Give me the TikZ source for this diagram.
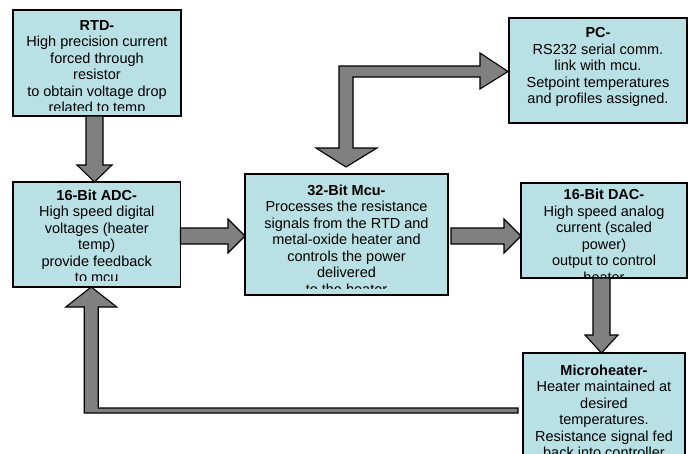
\documentclass[tikz,border=0pt]{standalone}
\usepackage{fontspec}
\setmainfont{Liberation Sans}
\usetikzlibrary{calc}
\definecolor{boxfill}{HTML}{B9E0E4}
\definecolor{arrowfill}{HTML}{808080}
% right-pointing block arrow: #1 start (centre line), #2 tip, #3 shaft half, #4 head half, #5 head length
\newcommand\rblockarrow[5]{\draw[blk] let \p1=#1, \p2=#2 in
  (\x1,\y1+#3) -- (\x2-#5,\y1+#3) -- (\x2-#5,\y1+#4) -- (\x2,\y1) --
  (\x2-#5,\y1-#4) -- (\x2-#5,\y1-#3) -- (\x1,\y1-#3) -- cycle;}
% down-pointing block arrow
\newcommand\dblockarrow[5]{\draw[blk] let \p1=#1, \p2=#2 in
  (\x1-#3,\y1) -- (\x1-#3,\y2+#5) -- (\x1-#4,\y2+#5) -- (\x1,\y2) --
  (\x1+#4,\y2+#5) -- (\x1+#3,\y2+#5) -- (\x1+#3,\y1) -- cycle;}
\begin{document}
\begin{tikzpicture}[x=1pt,y=-1pt,
  box/.style={draw=black, line width=1.8pt, fill=boxfill, rectangle, inner sep=0pt, outer sep=0pt},
  txt/.style={anchor=north, inner sep=0pt, align=center, font=\fontsize{14.5}{16.5}\selectfont},
  blk/.style={draw=black, line width=1.1pt, fill=arrowfill, line join=miter}]
\clip (0,0) rectangle (691,453);
\fill[white] (0,0) rectangle (691,453);

% boxes
\node[box, minimum width=168pt, minimum height=106pt] (rtd) at (97,63) {};
\node[box, minimum width=167.5pt, minimum height=105pt] (adc) at (96.75,234.5) {};
\node[box, minimum width=203pt, minimum height=121pt] (mcu) at (346.5,234.5) {};
\node[box, minimum width=178pt, minimum height=105pt] (pc) at (598,70.5) {};
\node[box, minimum width=166pt, minimum height=95pt] (dac) at (604,230.5) {};
\node[box, minimum width=162pt, minimum height=120pt] (micro) at (604,413) {};

% texts (clipped to the text frames)
\begin{scope}
\clip (15,12) rectangle (179,110);
\node[txt] (rtdtext) at (97,18.45) {\strut\textbf{RTD-}\\High precision current\\forced through\\resistor\\to obtain voltage drop\\related to temp};
\end{scope}
\begin{scope}
\clip (15,184) rectangle (178,280);
\node[txt] (adctext) at (96.75,188.45) {\strut\textbf{16-Bit ADC-}\\High speed digital\\voltages (heater\\temp)\\provide feedback\\to mcu};
\end{scope}
\begin{scope}
\clip (247,176) rectangle (446,288);
\node[txt] (mcutext) at (346.5,183.45) {\strut\textbf{32-Bit Mcu-}\\Processes the resistance\\signals from the RTD and\\metal-oxide heater and\\controls the power\\delivered\\to the heater};
\end{scope}
\node[txt] (pctext) at (598,25.75) {\strut\textbf{PC-}\\RS232 serial comm.\\link with mcu.\\Setpoint temperatures\\and profiles assigned.};
\begin{scope}
\clip (523,185) rectangle (685,276);
\node[txt] (dactext) at (604,187.75) {\strut\textbf{16-Bit DAC-}\\High speed analog\\current (scaled\\power)\\output to control\\heater};
\end{scope}
\node[txt] (microtext) at (604,363.45) {\strut\textbf{Microheater-}\\Heater maintained at\\desired\\temperatures.\\Resistance signal fed\\back into controller};

% block arrows
\dblockarrow{(94.5,0 |- rtd.south)}{(94.5,0 |- adc.north)}{8.5pt}{17.5pt}{17pt}
\rblockarrow{(adc.east |- 0,236)}{(mcu.west |- 0,236)}{8pt}{17pt}{17pt}
\coordinate (mcuout) at ([xshift=3pt]mcu.east);
\rblockarrow{(mcuout |- 0,236)}{(dac.west |- 0,236)}{8pt}{17pt}{17pt}
\dblockarrow{(601.5,0 |- dac.south)}{(601.5,0 |- micro.north)}{8.5pt}{16.5pt}{18pt}

% MCU <-> PC bent double arrow
\draw[blk] let \p1=(mcu.north), \p2=(pc.west) in
  (\x1-7.5pt,\y2+4.5pt) -- (\x2-29pt,\y2+4.5pt) -- (\x2-29pt,\y2+17.5pt) --
  (\x2-1pt,\y2-1pt) -- (\x2-29pt,\y2-18.5pt) -- (\x2-29pt,\y2-6.5pt) --
  (\x1+6.5pt,\y2-6.5pt) -- (\x1+6.5pt,\y1+26pt) -- (\x1+30.5pt,\y1+26pt) --
  (\x1-0.5pt,\y1+7pt) -- (\x1-30.5pt,\y1+26pt) -- (\x1-7.5pt,\y1+26pt) -- cycle;

% Microheater -> ADC feedback arrow
\draw[blk] let \p1=(micro.west), \p2=(adc.south) in
  (\x1-5pt,-408pt) -- (\x2-5.5pt+7pt,-408pt) -- (\x2-5.5pt+7pt,\y2-20pt) --
  (\x2-5.5pt+25.5pt,\y2-20pt) -- (\x2-5.5pt,\y2) -- (\x2-5.5pt-25.5pt,\y2-20pt) --
  (\x2-5.5pt-7pt,\y2-20pt) -- (\x2-5.5pt-7pt,-413pt) -- (\x1-5pt,-413pt) -- cycle;
\end{tikzpicture}
\end{document}
